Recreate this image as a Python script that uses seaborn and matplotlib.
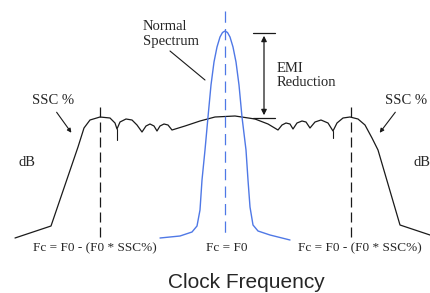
import matplotlib.pyplot as plt
import pandas as pd
import seaborn as sns

sns.set_theme(style="white")

# spread-spectrum envelope (black) in pixel units
ssc_x = [15, 51, 78, 84, 90, 100, 110, 115, 117,
         120, 126, 132, 137, 142,
         146, 150, 154, 157,
         160, 164, 168, 172,
         185, 200, 215, 235, 255, 268, 278,
         282, 286, 290, 293,
         297, 302, 306, 310,
         315, 321, 328, 333,
         337, 343, 350, 358, 365, 372, 378, 400, 430]
ssc_y = [238, 226, 147, 128, 120, 117, 118, 123, 129,
         122, 119, 120, 125, 132,
         126, 124, 126, 131,
         126, 124, 125, 130,
         126, 121, 117, 116, 119, 124, 130,
         125, 123, 124, 129,
         123, 121, 122, 128,
         122, 120, 123, 131,
         123, 118, 117, 119, 125, 138, 150, 225, 235]

# normal (non spread) clock spectrum (blue)
normal_x = [160, 180, 192, 197, 200, 202, 205, 208, 211, 214, 217, 220, 222.5, 225,
            227.5, 230, 233, 236, 239, 242, 246, 248, 250, 253, 258, 270, 290]
normal_y = [238, 236, 232, 226, 210, 180, 150, 117, 85, 62, 47, 37, 32.5, 31,
            32.5, 37, 47, 62, 85, 117, 150, 180, 207, 225, 231, 235, 240]

# frequency markers
fc_low, fc_center, fc_high = 100, 225, 351
fc_labels = ["Fc = F0 - (F0 * SSC%)", "Fc = F0", "Fc = F0 - (F0 * SSC%)"]
emi_top, emi_bottom = 33, 118

SERIF = ["Liberation Serif", "DejaVu Serif"]
BLUE = "#4f78e6"
INK = "#1a1a1a"
FS = 10.5

fig = plt.figure(figsize=(4.3, 2.93), dpi=100)
ax = fig.add_axes([0, 0, 1, 1])

ssc = pd.DataFrame({"x": ssc_x, "y": ssc_y})
normal = pd.DataFrame({"x": normal_x, "y": normal_y})
sns.lineplot(data=ssc, x="x", y="y", sort=False, estimator=None, color=INK, lw=0.9, ax=ax)
sns.lineplot(data=normal, x="x", y="y", sort=False, estimator=None, color=BLUE, lw=1.0, ax=ax)

# cusp ticks under the scallops
ax.plot([117, 117], [129, 140], color=INK, lw=0.8)
ax.plot([333, 333], [131, 138], color=INK, lw=0.8)

# dashed frequency markers
ax.plot([fc_low, fc_low], [107, 237], color=INK, lw=0.9, dashes=(8, 4))
ax.plot([fc_high, fc_high], [107, 237], color=INK, lw=0.9, dashes=(8, 4))
ax.plot([fc_center, fc_center], [11, 234], color=BLUE, lw=0.9, dashes=(9, 5))

# EMI reduction arrow
ax.annotate("", xy=(264, emi_top), xytext=(264, emi_bottom),
            arrowprops=dict(arrowstyle="<|-|>", color=INK, lw=0.9, mutation_scale=8))
ax.plot([253, 275], [emi_top, emi_top], color=INK, lw=0.9)
ax.plot([253, 275], [emi_bottom, emi_bottom], color=INK, lw=0.9)
ax.text(277, 68, "EMI", family=SERIF, fontsize=FS, va="center", ha="left")
ax.text(277, 83, "Reduction", family=SERIF, fontsize=FS, va="center", ha="left")

# callouts
ax.text(143, 27, "Normal", family=SERIF, fontsize=FS, va="center", ha="left")
ax.text(143, 42, "Spectrum", family=SERIF, fontsize=FS, va="center", ha="left")
ax.plot([170, 205], [51, 80], color=INK, lw=0.8)

ax.text(53, 100, "SSC %", family=SERIF, fontsize=FS, va="center", ha="center")
ax.annotate("", xy=(73, 135), xytext=(55, 110),
            arrowprops=dict(arrowstyle="-|>", color=INK, lw=0.8, mutation_scale=6))
ax.text(406, 100, "SSC %", family=SERIF, fontsize=FS, va="center", ha="center")
ax.annotate("", xy=(378, 135), xytext=(397, 110),
            arrowprops=dict(arrowstyle="-|>", color=INK, lw=0.8, mutation_scale=6))

ax.text(27, 163, "dB", family=SERIF, fontsize=FS, va="center", ha="center")
ax.text(413, 163, "dB", family=SERIF, fontsize=FS, va="center", ha="left")

for xpos, label in zip([95, 227, 360], fc_labels):
    ax.text(xpos, 248, label, family=SERIF, fontsize=9.5, va="center", ha="center")

ax.text(246, 282, "Clock Frequency", family=["Liberation Sans", "DejaVu Sans"],
        fontsize=15, va="center", ha="center")

ax.set_xlim(0, 430)
ax.set_ylim(293, 0)
ax.axis("off")

fig.savefig("out.png", dpi=100)
plt.close(fig)
